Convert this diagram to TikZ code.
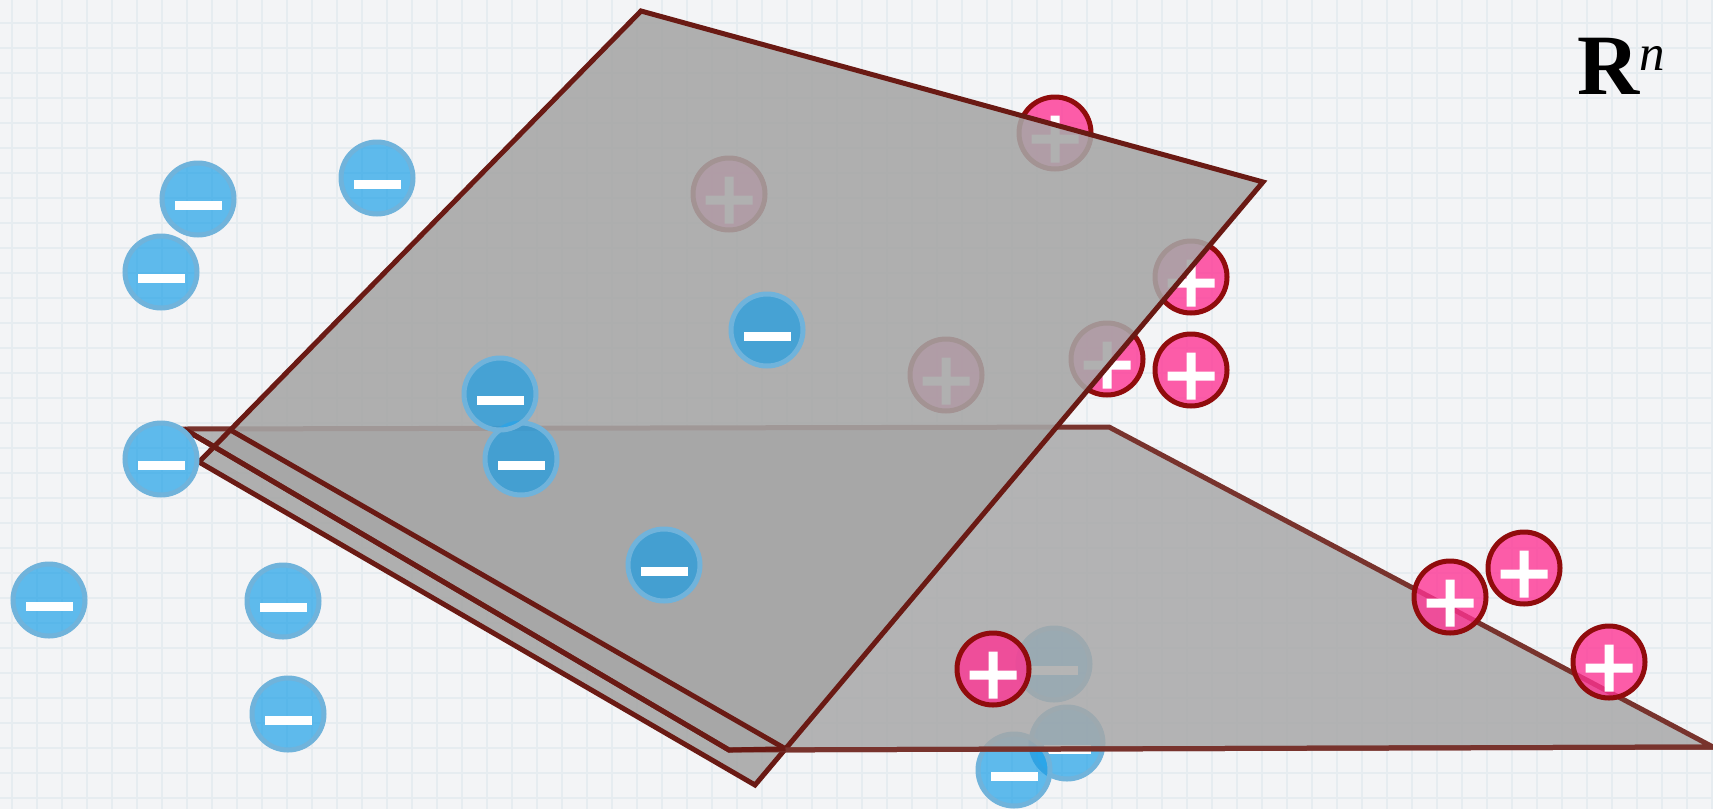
\documentclass[tikz,border=0pt]{standalone}
\usepackage{fontspec}
\setmainfont{Liberation Serif}
\usetikzlibrary{calc}
\definecolor{bgc}{HTML}{F3F4F6}
\definecolor{gridc}{HTML}{E6ECF0}
\definecolor{bluefill}{RGB}{17,156,232}
\definecolor{bluering}{HTML}{70B3DB}
\definecolor{pinkfill}{RGB}{255,50,147}
\definecolor{pinkring}{HTML}{900C0C}
\definecolor{uedge}{HTML}{6A1A14}
\definecolor{hedge}{HTML}{78332D}
\definecolor{planegray}{RGB}{166,166,166}
\definecolor{hgray}{RGB}{167,167,167}
\tikzset{
  charge/.style={circle, minimum size=72pt, inner sep=0pt, line width=5pt},
  negcharge/.style={charge, draw=bluering, fill=bluefill, fill opacity=0.66,
    path picture={\fill[white, fill opacity=1]
      ([shift={(-23.5pt,-10.5pt)}]path picture bounding box.center) rectangle ++(47pt,9pt);}},
  poscharge/.style={charge, draw=pinkring, fill=pinkfill, fill opacity=0.78,
    path picture={\fill[white, fill opacity=1]
      ([shift={(-23.5pt,-10.5pt)}]path picture bounding box.center) rectangle ++(47pt,9pt)
      ([shift={(-4.5pt,-29.5pt)}]path picture bounding box.center) rectangle ++(9pt,47pt);}},
  edgeline/.style={line width=5pt, line join=miter},
}
\begin{document}
\begin{tikzpicture}[x=1pt, y=-1pt]
  \useasboundingbox (0,0) rectangle (1713,809);
  \fill[bgc] (0,0) rectangle (1713,809);
  \foreach \x in {12,37,...,1712} \draw[gridc, line width=2pt] (\x,0) -- (\x,809);
  \foreach \y in {23,48,...,808} \draw[gridc, line width=2pt] (0,\y) -- (1713,\y);

  % coordinates of the planes
  \coordinate (U1) at (641,11);
  \coordinate (U2) at (1263,182);
  \coordinate (U3) at (755,785);
  \coordinate (U4) at (199,462);
  \coordinate (Ua) at ($(U1)!0.929!(U4)$);
  \coordinate (Ub) at ($(U2)!0.94!(U3)$);
  \coordinate (H1) at (184,429);
  \coordinate (H2) at (1109,427);
  \coordinate (H3) at (1713,747);
  \coordinate (H4) at (729,750);

  % negative charges behind the horizontal plane
  \node[negcharge] (n12) at (1054,664) {};
  \node[negcharge] (n13) at (1067,743) {};
  \node[negcharge] (n14) at (1014,770) {};

  % horizontal plane
  \fill[hgray, fill opacity=0.83] (H1) -- (H2) -- (H3) -- (H4) -- cycle;
  \draw[hedge, edgeline] (H1) -- (H2) -- (H3) -- (H4) -- cycle;

  % positive charges behind the tilted plane
  \node[poscharge] (p1) at (1055,133) {};
  \node[poscharge] (p2) at (729,194) {};
  \node[poscharge] (p3) at (1191,277) {};
  \node[poscharge] (p4) at (946,375) {};
  \node[poscharge] (p5) at (1107,359) {};

  % tilted plane
  \fill[planegray, fill opacity=0.88] (U1) -- (U2) -- (U3) -- (U4) -- cycle;
  \draw[uedge, edgeline] (U1) -- (U2) -- (U3) -- (U4) -- cycle;
  \draw[uedge, edgeline] (Ua) -- (Ub);
  \draw[hedge, edgeline] (H1) -- (H4) -- (H3);
  \draw[uedge, edgeline] (H1) -- (H4) -- (Ub);

  % positive charges in front
  \node[poscharge] (p6) at (1191,370) {};
  \node[poscharge] (p7) at (993,669) {};
  \node[poscharge] (p8) at (1450,597) {};
  \node[poscharge] (p9) at (1524,568) {};
  \node[poscharge] (p10) at (1609,662) {};

  % negative charges in front
  \node[negcharge] (n1) at (198,199) {};
  \node[negcharge] (n2) at (161,272) {};
  \node[negcharge] (n3) at (377,178) {};
  \node[negcharge] (n4) at (161,459) {};
  \node[negcharge] (n5) at (49,600) {};
  \node[negcharge] (n6) at (283,601) {};
  \node[negcharge] (n7) at (288,714) {};
  \node[negcharge] (n9) at (521,459) {};
  \node[negcharge] (n8) at (500,394) {};
  \node[negcharge] (n10) at (767,330) {};
  \node[negcharge] (n11) at (664,565) {};

  % label
  \node[anchor=base west, inner sep=0pt] (rn) at (1577,94)
    {\fontsize{86}{86}\selectfont\bfseries R\fontsize{51}{51}\selectfont\mdseries\itshape\raisebox{24pt}{n}};
\end{tikzpicture}
\end{document}
